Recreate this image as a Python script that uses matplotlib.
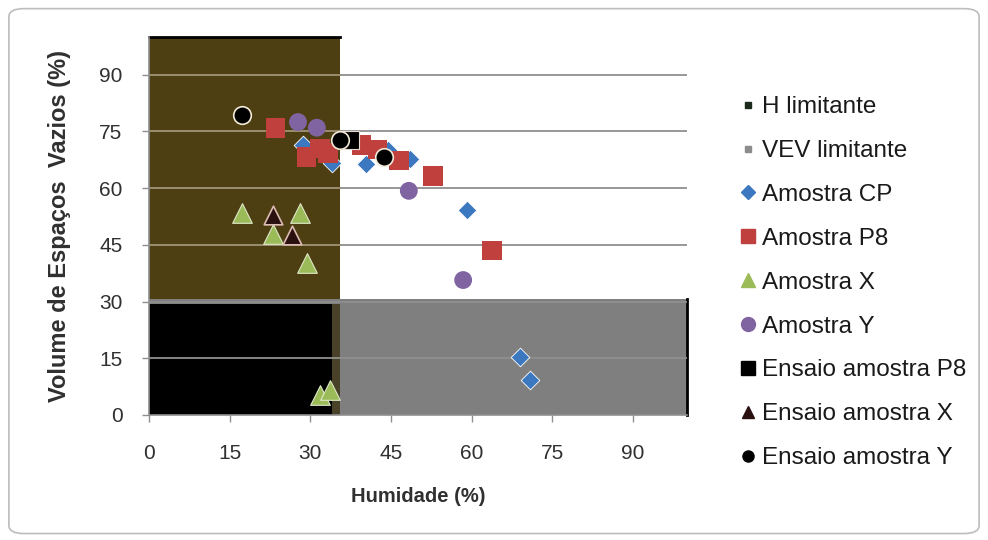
import matplotlib
matplotlib.use('Agg')
import matplotlib.pyplot as plt
from matplotlib.lines import Line2D
from matplotlib.patches import FancyBboxPatch, Rectangle

plt.rcParams['font.family'] = ['Liberation Sans', 'DejaVu Sans']

# limits (H limitante / VEV limitante)
h_lim = 35.5
vev_lim = 30.0

# series
cp_x = [28.6, 34.0, 40.3, 44.4, 48.5, 59.1, 69.0, 70.8]
cp_y = [71.4, 66.7, 66.4, 70.2, 67.7, 54.2, 15.3, 9.3]
p8_x = [23.5, 29.3, 31.8, 33.3, 39.5, 42.5, 46.5, 52.8, 63.8]
p8_y = [76.0, 68.3, 70.5, 69.3, 71.5, 70.2, 67.3, 63.3, 43.5]
amx_x = [17.2, 28.0, 23.1, 29.3, 31.8, 33.6]
amx_y = [53.5, 53.5, 47.8, 40.2, 5.3, 6.6]
amy_x = [27.7, 31.2, 48.3, 58.4]
amy_y = [77.5, 76.0, 59.3, 35.7]
ens_p8_x = [37.4]
ens_p8_y = [72.8]
ens_x_x = [23.1, 26.5]
ens_x_y = [53.0, 47.6]
ens_y_x = [17.3, 35.5, 43.7]
ens_y_y = [79.4, 72.8, 68.3]

yticks = [0, 15, 30, 45, 60, 75, 90]
xticks = [0, 15, 30, 45, 60, 75, 90]

fig = plt.figure(figsize=(9.88, 5.40), dpi=100)
fig.patches.append(FancyBboxPatch((0.009, 0.012), 0.982, 0.972,
                                  boxstyle='round,pad=0,rounding_size=0.015',
                                  transform=fig.transFigure, fc='white',
                                  ec='#bdbdbd', lw=1.2, zorder=-5))
ax = fig.add_axes([0.1508, 0.2315, 0.5445, 0.70])
ax.set_facecolor('none')

# limit regions
ax.add_patch(Rectangle((0, 0), h_lim, 100, fc='#4e3f13', ec='none', zorder=0.5))
ax.add_patch(Rectangle((0, 0), 100, vev_lim + 0.8, fc='#7f7f7f', ec='none', zorder=0.6))
ax.add_patch(Rectangle((0, 0), h_lim - 1.4, vev_lim - 0.6, fc='black', ec='none', zorder=0.7))
ax.add_patch(Rectangle((h_lim - 1.4, 0), 1.4, vev_lim - 0.6, fc='#4a4228', ec='none', zorder=0.7))
ax.plot([0, h_lim], [100, 100], color='black', lw=2, zorder=0.8, clip_on=False)
ax.plot([100, 100], [0, vev_lim + 0.8], color='black', lw=2, zorder=0.8, clip_on=False)

# gridlines: grey outside, tan-ish where they cross the brown zone
for t in yticks[1:]:
    ax.axhline(t, xmin=0, xmax=1, color='#8f8f8f', lw=1.3, zorder=1)
    if t > vev_lim:
        ax.axhline(t, xmin=0, xmax=h_lim / 100, color='#9a8d6c', lw=1.3, zorder=1.1)

ax.scatter(cp_x, cp_y, marker='D', s=90, color='#3c78c0', edgecolors='white', linewidths=0.6, zorder=3)
ax.scatter(p8_x, p8_y, marker='s', s=200, color='#c0403e', edgecolors='none', zorder=3.1)
ax.scatter(amx_x, amx_y, marker='^', s=200, color='#9bbb59', edgecolors='#dfe8c8', linewidths=0.8, zorder=3.2)
ax.scatter(amy_x, amy_y, marker='o', s=165, color='#8064a2', edgecolors='none', zorder=3.3)
ax.scatter(ens_p8_x, ens_p8_y, marker='s', s=160, color='black', edgecolors='#e6ddd5', linewidths=0.8, zorder=3.4)
ax.scatter(ens_x_x, ens_x_y, marker='^', s=180, color='#2b1010', edgecolors='#dcbcb4', linewidths=1.2, zorder=3.5)
ax.scatter(ens_y_x, ens_y_y, marker='o', s=160, color='black', edgecolors='#f2ead6', linewidths=1.2, zorder=3.6)

ax.set_xlim(0, 100)
ax.set_ylim(0, 100)
ax.set_xticks(xticks)
ax.set_yticks(yticks)
ax.tick_params(axis='both', direction='out', length=5, width=1, color='#8f8f8f',
               labelsize=15, labelcolor='#303030')
ax.tick_params(axis='x', pad=16)
ax.tick_params(axis='y', pad=14)
for side in ['top', 'right']:
    ax.spines[side].set_visible(False)
for side in ['left', 'bottom']:
    ax.spines[side].set_color('#8f8f8f')
    ax.spines[side].set_linewidth(1.2)

ax.set_xlabel('Humidade (%)', fontsize=14.5, fontweight='bold', color='#303030', labelpad=17)
ax.set_ylabel('Volume de Espaços  Vazios (%)', fontsize=17, fontweight='bold', color='#303030', labelpad=20)

handles = [
    Line2D([], [], ls='none', marker='s', ms=5, color='#1c2a1c'),
    Line2D([], [], ls='none', marker='s', ms=5, color='#8c8c8c'),
    Line2D([], [], ls='none', marker='D', ms=7, color='#3c78c0'),
    Line2D([], [], ls='none', marker='s', ms=10, color='#c0403e'),
    Line2D([], [], ls='none', marker='^', ms=10, color='#9bbb59'),
    Line2D([], [], ls='none', marker='o', ms=10, color='#8064a2'),
    Line2D([], [], ls='none', marker='s', ms=10, color='black'),
    Line2D([], [], ls='none', marker='^', ms=8, color='#2b1010'),
    Line2D([], [], ls='none', marker='o', ms=8, color='black'),
]
labels = ['H limitante', 'VEV limitante', 'Amostra CP', 'Amostra P8', 'Amostra X',
          'Amostra Y', 'Ensaio amostra P8', 'Ensaio amostra X', 'Ensaio amostra Y']
fig.legend(handles, labels, loc='upper left', bbox_to_anchor=(0.750, 0.822),
           frameon=False, fontsize=17.5, handlelength=0.6, handletextpad=0.25,
           labelspacing=0.9, borderpad=0, borderaxespad=0, labelcolor='#1a1a1a')

fig.savefig('out.png', dpi=100)
